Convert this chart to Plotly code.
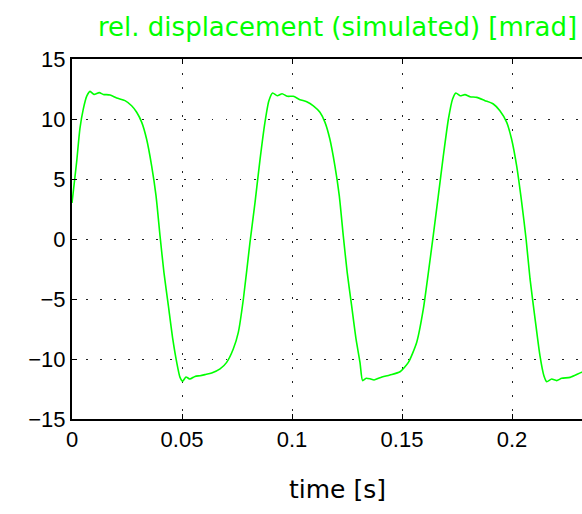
import plotly.graph_objects as go

# time [s] and displacement [mrad]
t = [0.0, 0.0021, 0.0036, 0.0051, 0.0067, 0.0082, 0.0100, 0.0124, 0.0142, 0.0173,
     0.0203, 0.0241, 0.0271, 0.0294, 0.0317, 0.0339, 0.0362, 0.0382, 0.0400, 0.0418,
     0.0438, 0.0458, 0.0476, 0.0491, 0.0503, 0.0518, 0.0536, 0.0559, 0.0582, 0.0605,
     0.0635, 0.0673, 0.0703, 0.0733, 0.0756, 0.0779, 0.0809, 0.0832, 0.0855, 0.0877,
     0.0895, 0.0912, 0.0933, 0.0955, 0.0979, 0.1006, 0.1036, 0.1067, 0.1097, 0.1127,
     0.1150, 0.1172, 0.1195, 0.1215, 0.1233, 0.1251, 0.1271, 0.1291, 0.1309, 0.1321,
     0.1337, 0.1355, 0.1373, 0.1400, 0.1445, 0.1491, 0.1529, 0.1567, 0.1597, 0.1620,
     0.1642, 0.1665, 0.1688, 0.1711, 0.1730, 0.1745, 0.1764, 0.1786, 0.1809, 0.1840,
     0.1877, 0.1915, 0.1945, 0.1976, 0.1998, 0.2021, 0.2044, 0.2064, 0.2082, 0.2105,
     0.2127, 0.2145, 0.2158, 0.2180, 0.2203, 0.2226, 0.2264, 0.2317, 0.2340]
disp = [3.0, 6.4, 9.2, 10.8, 11.9, 12.3, 12.05, 12.2, 12.05, 12.0,
        11.75, 11.53, 11.1, 10.56, 9.72, 8.33, 6.1, 3.6, 0.28, -2.8,
        -5.56, -8.33, -10.28, -11.53, -11.85, -11.5, -11.67, -11.45, -11.39, -11.3,
        -11.17, -10.83, -10.28, -9.17, -7.78, -5.0, -0.28, 3.06, 6.67, 9.72,
        11.53, 12.17, 11.94, 12.11, 11.89, 11.89, 11.61, 11.44, 11.1, 10.56,
        9.72, 8.33, 6.1, 3.6, 0.28, -2.8, -5.56, -8.33, -10.28, -11.8,
        -11.6, -11.65, -11.75, -11.56, -11.33, -11.06, -10.28, -8.6, -5.83, -2.78,
        0.28, 3.6, 6.94, 10.0, 11.67, 12.17, 11.94, 12.03, 11.86, 11.8,
        11.53, 11.25, 10.69, 9.72, 8.33, 6.11, 3.06, 0.0, -3.33, -6.67,
        -9.72, -11.39, -11.89, -11.67, -11.8, -11.61, -11.53, -11.11, -11.0]

x_ticks = [0, 0.05, 0.1, 0.15, 0.2]
x_ticktext = ["0", "0.05", "0.1", "0.15", "0.2"]
y_ticks = [-15, -10, -5, 0, 5, 10, 15]

title_text = "rel. displacement (simulated) [mrad]"
xlabel_text = "time [s]"

fig = go.Figure()
fig.add_trace(go.Scatter(x=t, y=disp, mode="lines",
                         line=dict(color="#00ff00", width=1.6, shape="spline", smoothing=0.6),
                         hoverinfo="skip", showlegend=False))

W, H = 582, 514
ml, mt, mb, mr = 72, 59, 95, 0
pw = W - ml - mr

fig.update_layout(
    width=W, height=H,
    margin=dict(l=ml, r=mr, t=mt, b=mb),
    paper_bgcolor="white", plot_bgcolor="white",
    showlegend=False,
    xaxis=dict(range=[0, pw / 2200.0], tickvals=x_ticks, ticktext=x_ticktext,
               showline=True, linecolor="black", linewidth=2, mirror="ticks",
               ticks="inside", ticklen=5, tickcolor="black", tickwidth=1,
               showgrid=True, gridcolor="#222222", gridwidth=1, griddash="1.5px,12.5px",
               zeroline=False,
               tickfont=dict(family="Liberation Sans, Arial", size=22, color="black")),
    yaxis=dict(range=[-15, 15], tickvals=y_ticks,
               showline=True, linecolor="black", linewidth=2, mirror=False,
               ticks="inside", ticklen=5, tickcolor="black", tickwidth=1,
               showgrid=True, gridcolor="#222222", gridwidth=1, griddash="1.5px,12.5px",
               zeroline=False,
               tickfont=dict(family="Liberation Sans, Arial", size=22, color="black")),
    annotations=[
        dict(text=title_text, x=(337.5 - ml) / pw, y=1, xref="paper", yref="paper",
             xanchor="center", yanchor="bottom", yshift=15, showarrow=False,
             font=dict(family="DejaVu Sans", size=26, color="#00ff00")),
        dict(text=xlabel_text, x=(337.5 - ml) / pw, y=0, xref="paper", yref="paper",
             xanchor="center", yanchor="top", yshift=-54, showarrow=False,
             font=dict(family="DejaVu Sans", size=25, color="black")),
    ],
)

fig.write_html("out.html")
